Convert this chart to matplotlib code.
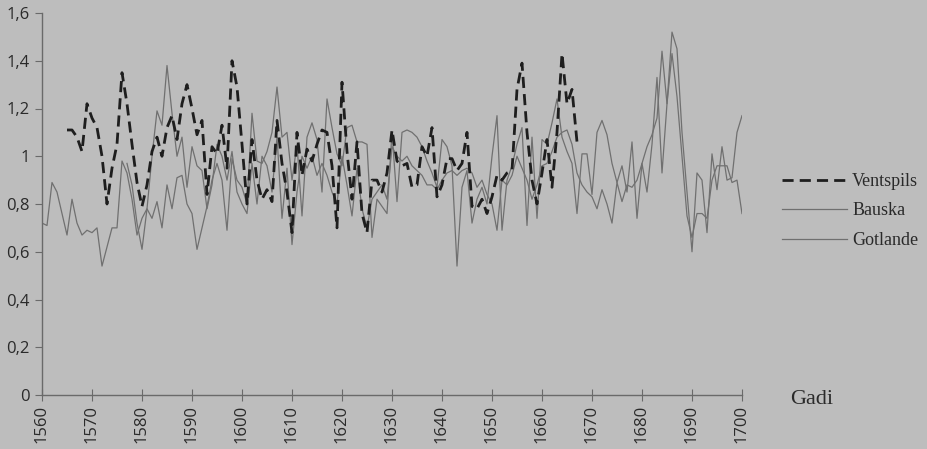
import matplotlib
matplotlib.use("Agg")
import matplotlib.pyplot as plt
import numpy as np

# ---- data ----
vent_start = 1565
ventspils = [1.11, 1.11, 1.08, 1.02, 1.22, 1.16, 1.12, 1.00, 0.80, 0.95,
             1.05, 1.35, 1.22, 1.05, 0.89, 0.79, 0.88, 1.02, 1.08, 1.00,
             1.12, 1.17, 1.07, 1.22, 1.30, 1.20, 1.09, 1.15, 0.84, 1.04,
             1.01, 1.13, 0.95, 1.40, 1.29, 1.05, 0.80, 1.07, 0.90, 0.82,
             0.86, 0.81, 1.15, 0.97, 0.85, 0.68, 1.10, 0.92, 1.03, 0.98,
             1.05, 1.11, 1.10, 0.96, 0.70, 1.31, 1.02, 0.82, 1.06, 0.76,
             0.68, 0.90, 0.90, 0.85, 0.93, 1.11, 0.98, 0.96, 0.97, 0.87,
             0.88, 1.04, 1.00, 1.12, 0.83, 0.88, 0.99, 0.99, 0.94, 0.97,
             1.10, 0.79, 0.78, 0.82, 0.76, 0.83, 0.92, 0.90, 0.93, 0.94,
             1.28, 1.39, 1.10, 0.90, 0.80, 0.93, 1.07, 0.87, 1.10, 1.43,
             1.22, 1.28, 1.06, 1.06]

bauska_start = 1577
bauska = [0.97, 0.88, 0.72, 0.61, 0.78, 1.00, 1.19, 1.13, 1.38, 1.18,
          1.00, 1.08, 0.87, 1.04, 0.96, 0.94, 0.78, 0.88, 1.05, 1.00,
          0.90, 1.02, 0.85, 0.80, 0.76, 0.97, 0.80, 1.00, 0.96, 0.85,
          1.08, 0.74, 0.95, 0.63, 0.85, 1.00, 0.95, 1.00, 0.92, 0.97,
          0.92, 0.85, 0.80, 1.00, 0.88, 0.75, 0.95, 0.78, 0.70, 0.82,
          0.85, 0.88, 0.82, 1.04, 1.00, 0.98, 1.00, 0.96, 0.94, 0.92,
          0.88, 0.88, 0.86, 0.90, 0.93, 0.94, 0.92, 0.94, 0.95, 0.93,
          0.87, 0.90, 0.84, 0.80, 0.69, 0.90, 0.88, 0.92, 1.00, 0.95,
          0.90, 0.82, 0.88, 0.96, 0.97, 1.02, 1.08, 1.10, 1.11, 1.05,
          0.93, 0.88, 0.85, 0.83, 0.78, 0.86, 0.80, 0.72, 0.89, 0.81,
          0.88, 0.87, 0.90, 0.97, 1.04, 1.09, 1.16, 1.44, 1.22, 1.43,
          1.25, 1.00, 0.75, 0.66, 0.76, 0.76, 0.74, 0.90, 0.96, 0.96,
          0.96, 0.89, 0.90, 0.76]

gotl_start = 1560
gotlande = [0.72, 0.71, 0.89, 0.85, 0.76, 0.67, 0.82, 0.72, 0.67, 0.69,
            0.68, 0.70, 0.54, 0.62, 0.70, 0.70, 0.98, 0.93, 0.82, 0.67,
            0.74, 0.78, 0.74, 0.81, 0.70, 0.88, 0.78, 0.91, 0.92, 0.80,
            0.76, 0.61, 0.70, 0.79, 0.90, 0.97, 0.90, 0.69, 0.99, 0.90,
            0.87, 0.80, 1.18, 0.98, 0.97, 1.02, 1.10, 1.29, 1.08, 1.10,
            0.90, 1.05, 0.75, 1.08, 1.14, 1.07, 0.85, 1.24, 1.12, 1.01,
            0.96, 1.12, 1.13, 1.06, 1.06, 1.05, 0.66, 0.82, 0.79, 0.76,
            1.10, 0.81, 1.10, 1.11, 1.10, 1.08, 1.04, 0.98, 0.93, 0.87,
            1.07, 1.04, 0.96, 0.54, 0.87, 0.94, 0.72, 0.82, 0.87, 0.80,
            1.00, 1.17, 0.69, 0.90, 0.96, 1.05, 1.12, 0.71, 1.08, 0.74,
            1.07, 1.05, 1.14, 1.24, 1.08, 1.02, 0.97, 0.76, 1.01, 1.01,
            0.84, 1.10, 1.15, 1.09, 0.97, 0.89, 0.96, 0.85, 1.06, 0.74,
            0.97, 0.85, 1.05, 1.33, 0.93, 1.22, 1.52, 1.45, 1.10, 0.85,
            0.60, 0.93, 0.90, 0.68, 1.01, 0.86, 1.04, 0.90, 0.91, 1.10,
            1.17]

x_ticks = list(range(1560, 1701, 10))
y_ticks = [0, 0.2, 0.4, 0.6, 0.8, 1.0, 1.2, 1.4, 1.6]
y_labels = ["0", "0,2", "0,4", "0,6", "0,8", "1", "1,2", "1,4", "1,6"]
series_names = ["Ventspils", "Bauska", "Gotlande"]
x_title = "Gadi"

# ---- figure ----
bg = "#bdbdbd"
fig = plt.figure(figsize=(9.28, 4.49), dpi=100, facecolor=bg)
ax = fig.add_axes([42 / 928, 1 - 395 / 449, 700 / 928, 382 / 449])
ax.set_facecolor(bg)

yrs_v = np.arange(vent_start, vent_start + len(ventspils))
yrs_b = np.arange(bauska_start, bauska_start + len(bauska))
yrs_g = np.arange(gotl_start, gotl_start + len(gotlande))

ax.plot(yrs_b, bauska, color="#707070", lw=0.9, label=series_names[1], zorder=2)
ax.plot(yrs_g, gotlande, color="#707070", lw=0.9, label=series_names[2], zorder=2)
ax.plot(yrs_v, ventspils, color="#1e1e1e", lw=2.0, ls=(0, (4, 2.2)),
        label=series_names[0], zorder=3)

ax.set_xlim(1560, 1700)
ax.set_ylim(0, 1.6)
ax.set_xticks(x_ticks)
ax.set_xticklabels([str(t) for t in x_ticks], rotation=90,
                   fontsize=12, family="Open Sans", color="#2a2a2a")
ax.set_yticks(y_ticks)
ax.set_yticklabels(y_labels, fontsize=12, family="Open Sans", color="#2a2a2a")

for s in ["top", "right"]:
    ax.spines[s].set_visible(False)
for s in ["left", "bottom"]:
    ax.spines[s].set_color("#6a6a6a")
    ax.spines[s].set_linewidth(1.0)
ax.tick_params(axis="y", direction="out", length=5, color="#6a6a6a", pad=4)
ax.tick_params(axis="x", direction="inout", length=8, color="#6a6a6a", pad=3)

handles, labels = ax.get_legend_handles_labels()
order = [labels.index(n) for n in series_names]
leg = fig.legend([handles[i] for i in order], [labels[i] for i in order],
                 loc="center left", bbox_to_anchor=(782 / 928, 1 - 211 / 449),
                 frameon=False, handlelength=3.6, handletextpad=0.28,
                 labelspacing=0.7, borderpad=0, borderaxespad=0,
                 prop={"family": "Liberation Serif", "size": 13})
for t in leg.get_texts():
    t.set_color("#2a2a2a")

fig.text(790 / 928, 1 - 400 / 449, x_title, family="Liberation Serif",
         fontsize=16, color="#2a2a2a", va="center", ha="left")

fig.savefig("out.png", dpi=100, facecolor=bg)
